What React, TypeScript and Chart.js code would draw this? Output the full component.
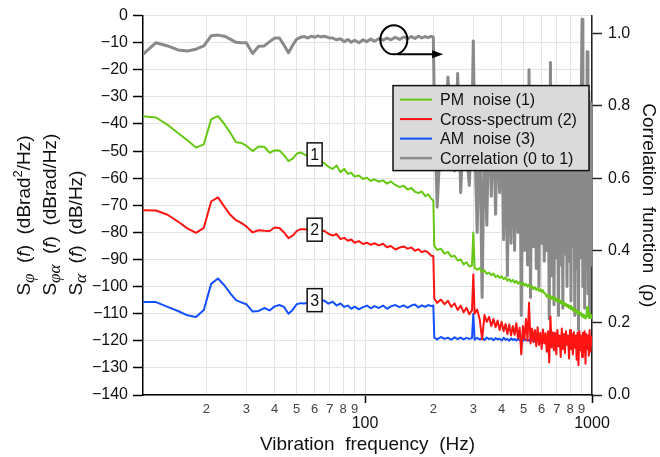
import React, { useEffect, useRef } from 'react';
import { Chart, registerables } from 'chart.js';

Chart.register(...registerables);

const FONT = "'Liberation Sans', Arial, Helvetica, sans-serif";
const SERIF = "'Liberation Serif', 'DejaVu Serif', serif";

// ---------- data (Hz, dB, correlation) ----------
const FREQ_LOW = [
  10.52, 12, 13.5, 15, 16.5, 18, 19.5, 21, 22.5, 24,
  25.5, 27, 28.5, 30, 32, 34, 36, 38, 40, 42,
  44, 46, 48, 50, 52, 54, 56, 58, 60, 62,
  64, 66, 69, 72, 75, 78, 81, 84, 87, 90,
  94, 98, 102, 106, 110, 115, 120, 125, 130, 136,
  142, 148, 154, 160, 166, 172, 178, 184, 190, 196,
  200,
];
const FREQ_HIGH = [
  202, 208, 216, 224, 232, 240, 248, 256, 264, 272, 280, 288, 296, 300,
  304, 312, 320, 328, 336, 344, 352, 360, 368, 376,
  384, 392, 400, 408, 416, 424, 432, 440, 448, 456,
  464, 472, 480, 488, 496, 504, 512, 520, 528, 536,
  544, 552, 560, 568, 576, 584, 592, 600, 608, 616,
  624, 632, 640, 648, 656, 664, 672, 680, 688, 696,
  704, 712, 720, 728, 736, 744, 752, 760, 768, 776,
  784, 792, 800, 808, 816, 824, 832, 840, 848, 856,
  864, 872, 880, 888, 896, 904, 912, 920, 928, 936,
  944, 952, 960, 968, 976, 984, 992, 1000,
];

const PM_LOW = [
  -37.1, -37.6, -40.3, -43.3, -46.0, -48.7, -47.5, -38.3, -37.1, -40.0,
  -43.2, -46.7, -47.0, -48.0, -50.0, -48.3, -48.4, -50.6, -49.7, -49.8,
  -51.5, -53.7, -52.8, -51.0, -50.5, -51.2, -51.8, -52.5, -53.0, -53.5,
  -54.0, -54.4, -55.8, -56.6, -55.3, -57.8, -56.5, -58.4, -58.0, -59.4,
  -59.0, -60.3, -59.8, -61.0, -60.4, -61.3, -60.8, -62.0, -61.2, -62.5,
  -63.3, -62.8, -64.2, -63.6, -65.0, -65.5, -64.9, -66.6, -66.0, -67.6,
  -68.3,
];
const PM_HIGH = [
  -85.0, -86.5, -86.0, -87.8, -87.2, -89.0, -88.6, -90.4, -90.0, -91.8, -91.0, -92.6, -92.2, -80.0,
  -93.0, -93.8, -93.2, -94.6, -94.0, -95.3, -94.8, -95.8, -95.2, -96.4,
  -95.9, -96.8, -96.2, -97.3, -96.6, -97.8, -97.2, -98.2, -97.5, -98.6,
  -97.9, -98.9, -98.3, -99.3, -98.6, -99.6, -99.0, -100.0, -99.3, -100.4,
  -99.8, -100.9, -100.2, -101.2, -100.5, -101.6, -100.9, -102.0, -101.3, -102.4,
  -102.7, -103.8, -103.0, -104.1, -103.4, -104.5, -103.8, -104.9, -104.1, -105.3,
  -104.5, -105.7, -104.9, -106.1, -105.4, -106.6, -105.8, -107.0, -106.3, -107.4,
  -106.7, -107.9, -107.1, -108.3, -107.6, -108.8, -108.0, -109.2, -108.5, -109.7,
  -108.9, -110.1, -109.3, -110.5, -109.8, -111.0, -110.2, -111.4, -110.6, -111.8,
  -111.0, -107.5, -110.8, -111.5, -109.6, -111.6, -110.5, -112.0,
];

const CROSS_LOW = [
  -71.8, -71.9, -73.5, -76.0, -78.5, -80.2, -78.3, -68.6, -67.1, -70.5,
  -73.5, -75.5, -76.5, -77.8, -80.0, -79.2, -79.4, -79.5, -78.2, -78.4,
  -80.0, -82.1, -81.2, -79.5, -78.8, -78.8, -79.0, -79.2, -79.3, -79.4,
  -79.5, -79.4, -80.5, -81.2, -80.6, -82.5, -82.0, -83.1, -82.6, -83.8,
  -83.2, -84.3, -83.8, -84.6, -84.0, -84.8, -84.2, -85.5, -85.0, -86.3,
  -85.6, -85.2, -86.0, -85.6, -86.8, -86.2, -87.3, -86.8, -87.5, -88.6,
  -88.8,
];
const CROSS_HIGH = [
  -104.5, -106.0, -104.8, -106.5, -105.2, -107.5, -106.2, -108.6, -107.0, -109.5, -107.8, -110.2, -108.8, -95.5,
  -110.0, -108.5, -112.0, -119.5, -110.5, -113.0, -111.2, -114.5, -112.0, -115.0,
  -112.5, -116.0, -113.0, -116.5, -113.8, -117.5, -114.0, -118.0, -114.5, -117.8,
  -113.5, -119.0, -115.2, -125.0, -114.5, -119.5, -112.0, -120.0, -106.0, -121.0,
  -115.5, -120.5, -116.0, -122.0, -115.0, -121.5, -117.0, -123.0, -115.8, -121.0,
  -117.2, -124.0, -116.5, -128.0, -111.0, -122.5, -116.8, -123.5, -117.0, -125.0,
  -116.0, -122.0, -118.0, -126.0, -115.5, -123.0, -117.5, -124.5, -116.5, -121.5,
  -118.0, -126.5, -116.0, -123.0, -117.5, -125.0, -116.8, -122.5, -118.0, -127.0,
  -117.0, -129.0, -116.5, -123.5, -118.0, -126.0, -117.0, -124.0, -116.5, -128.5,
  -117.5, -123.0, -118.0, -125.5, -116.0, -124.0, -118.5, -122.0,
];

const AM_LOW = [
  -105.7, -105.7, -107.5, -109.0, -110.6, -111.2, -108.6, -99.0, -97.0, -99.5,
  -102.5, -105.0, -105.8, -106.5, -109.2, -109.0, -107.9, -108.8, -107.3, -106.8,
  -107.5, -110.0, -108.6, -106.5, -106.1, -106.2, -106.0, -105.8, -105.5, -105.3,
  -105.2, -105.1, -106.3, -105.6, -107.0, -106.2, -107.5, -107.0, -108.2, -107.4,
  -108.4, -107.6, -107.0, -108.0, -107.2, -107.9, -107.0, -108.2, -107.3, -106.8,
  -107.6, -106.9, -107.8, -107.0, -106.6, -107.7, -106.9, -107.5, -106.8, -107.2,
  -107.0,
];
const AM_HIGH = [
  -118.8, -119.5, -118.6, -119.3, -118.9, -119.6, -118.7, -119.4, -118.8, -119.5, -118.9, -119.3, -119.0, -110.0,
  -119.6, -118.9, -119.5, -119.0, -119.7, -118.8, -119.4, -119.1, -119.8, -119.0,
  -119.5, -119.2, -119.9, -118.9, -119.6, -119.3, -120.0, -119.1, -119.7, -119.3,
  -119.9, -119.2, -119.8, -119.4, -120.1, -119.3, -119.8, -119.5, -120.0, -119.4,
  -119.9, -119.5, -120.2, -119.4, -119.9, -119.6, -120.1, -119.5, -120.0, -119.7,
  -120.2, -119.6, -120.0, -119.7, -120.3, -119.6, -120.1, -119.8, -120.2, -119.7,
  -120.3, -119.8, -120.1, -119.9, -120.4, -119.8, -120.2, -119.9, -120.5, -119.9,
  -120.3, -120.0, -120.5, -119.9, -120.4, -120.1, -120.6, -120.0, -120.4, -120.1,
  -120.6, -120.0, -120.5, -120.2, -120.7, -120.1, -120.5, -120.2, -120.6, -120.1,
  -120.5, -120.3, -120.7, -120.2, -120.6, -120.3, -120.8, -120.4,
];

const CORR_LOW = [
  0.943, 0.975, 0.966, 0.955, 0.952, 0.957, 0.966, 0.994, 0.996, 0.993,
  0.985, 0.976, 0.975, 0.975, 0.945, 0.965, 0.966, 0.978, 0.988, 0.988,
  0.968, 0.947, 0.968, 0.985, 0.990, 0.992, 0.988, 0.993, 0.990, 0.994,
  0.991, 0.993, 0.989, 0.988, 0.983, 0.986, 0.978, 0.984, 0.976, 0.982,
  0.975, 0.983, 0.978, 0.985, 0.979, 0.986, 0.982, 0.988, 0.983, 0.990,
  0.984, 0.991, 0.986, 0.992, 0.987, 0.993, 0.988, 0.992, 0.989, 0.993,
  0.990,
];
const CORR_HIGH = [
  0.80, 0.52, 0.74, 0.70, 0.88, 0.72, 0.62, 0.89, 0.56, 0.75, 0.68, 0.58, 0.76, 0.98,
  0.72, 0.45, 0.78, 0.27, 0.76, 0.47, 0.80, 0.55, 0.78, 0.50,
  0.76, 0.56, 0.80, 0.43, 0.78, 0.33, 0.80, 0.42, 0.82, 0.40,
  0.79, 0.45, 0.82, 0.22, 0.80, 0.40, 0.83, 0.36, 0.90, 0.27,
  0.78, 0.41, 0.84, 0.35, 0.80, 0.30, 0.83, 0.42, 0.76, 0.37,
  0.82, 0.40, 0.79, 0.21, 0.92, 0.33, 0.81, 0.25, 0.84, 0.38,
  0.78, 0.22, 0.83, 0.36, 0.80, 0.24, 0.85, 0.39, 0.79, 0.30,
  0.82, 0.37, 0.77, 0.26, 0.84, 0.41, 0.80, 0.22, 0.83, 0.35,
  0.78, 0.18, 0.85, 0.38, 0.80, 1.04, 0.30, 0.82, 0.24, 0.79,
  0.36, 0.95, 0.28, 0.84, 0.22, 0.81, 0.36, 0.80,
];

// ---------- axes / labels ----------
const X_TICKS = [20, 30, 40, 50, 60, 70, 80, 90, 100, 200, 300, 400, 500, 600, 700, 800, 900, 1000];
const X_MAJOR = [100, 1000];
const Y_TICKS = [-140, -130, -120, -110, -100, -90, -80, -70, -60, -50, -40, -30, -20, -10, 0];
const Y2_TICKS = [0, 0.2, 0.4, 0.6, 0.8, 1.0];
const SERIES_NAMES = ['PM  noise (1)', 'Cross-spectrum (2)', 'AM  noise (3)', 'Correlation (0 to 1)'];
const SERIES_COLORS = ['#66c814', '#ff1414', '#1450ff', '#8a8a8a'];
const TAG_TEXT = ['1', '2', '3'];
const TAG_FREQ = 60;
const TAG_LEVEL = [-51.2, -79.0, -105.0];
const CIRCLE_FREQ = 134;
const CIRCLE_CORR = 0.983;
const ARROW_CORR = 0.943;
const ARROW_FROM = 138;
const ARROW_TO = 221;

const FREQ = [...FREQ_LOW, ...FREQ_HIGH];
const pts = (vals: number[]) => FREQ.map((x, i) => ({ x, y: vals[i] }));

type Seg = { t: string; k?: 'sub' | 'sup' | 'it' };
const LEFT_TITLE: Seg[][] = [
  [{ t: 'S' }, { t: 'φ', k: 'sub' }, { t: '  (' }, { t: 'f', k: 'it' }, { t: ')  (dBrad' }, { t: '2', k: 'sup' }, { t: '/Hz)' }],
  [{ t: 'S' }, { t: 'φα', k: 'sub' }, { t: '  (' }, { t: 'f', k: 'it' }, { t: ')  (dBrad/Hz)' }],
  [{ t: 'S' }, { t: 'α', k: 'sub' }, { t: '  (' }, { t: 'f', k: 'it' }, { t: ')  (dB/Hz)' }],
];

const overlayPlugin = {
  id: 'overlays',
  afterDraw(chart: any) {
    const { ctx, chartArea: a, scales } = chart;
    const xs = scales.x, ys = scales.y, y2 = scales.y2;
    ctx.save();

    // curve tags
    TAG_TEXT.forEach((t, i) => {
      const cx = xs.getPixelForValue(TAG_FREQ);
      const cy = ys.getPixelForValue(TAG_LEVEL[i]);
      const w = 15, h = 23;
      ctx.fillStyle = '#fff';
      ctx.fillRect(cx - w / 2, cy - h / 2, w, h);
      ctx.lineWidth = 1.5;
      ctx.strokeStyle = '#111';
      ctx.strokeRect(cx - w / 2, cy - h / 2, w, h);
      ctx.fillStyle = '#111';
      ctx.font = `16px ${FONT}`;
      ctx.textAlign = 'center';
      ctx.textBaseline = 'middle';
      ctx.fillText(t, cx, cy + 1);
    });

    // circle + arrow
    const ccx = xs.getPixelForValue(CIRCLE_FREQ);
    const ccy = y2.getPixelForValue(CIRCLE_CORR);
    ctx.beginPath();
    ctx.ellipse(ccx, ccy, 13.5, 14.5, 0, 0, Math.PI * 2);
    ctx.lineWidth = 2;
    ctx.strokeStyle = '#000';
    ctx.stroke();
    const ay = y2.getPixelForValue(ARROW_CORR);
    const ax0 = xs.getPixelForValue(ARROW_FROM);
    const ax1 = xs.getPixelForValue(ARROW_TO);
    ctx.beginPath();
    ctx.moveTo(ax0, ay);
    ctx.lineTo(ax1 - 8, ay);
    ctx.stroke();
    ctx.beginPath();
    ctx.moveTo(ax1, ay);
    ctx.lineTo(ax1 - 11, ay - 4);
    ctx.lineTo(ax1 - 11, ay + 4);
    ctx.closePath();
    ctx.fillStyle = '#000';
    ctx.fill();

    // legend
    const lx = a.right - 199, ly = a.top + 70, lw = 196, lh = 85;
    ctx.fillStyle = '#dadada';
    ctx.fillRect(lx, ly, lw, lh);
    ctx.lineWidth = 1.5;
    ctx.strokeStyle = '#111';
    ctx.strokeRect(lx, ly, lw, lh);
    ctx.font = `16px ${FONT}`;
    ctx.textAlign = 'left';
    ctx.textBaseline = 'middle';
    SERIES_NAMES.forEach((name, i) => {
      const ry = ly + 14 + i * 19.5;
      ctx.beginPath();
      ctx.moveTo(lx + 7, ry);
      ctx.lineTo(lx + 39, ry);
      ctx.lineWidth = i === 3 ? 2.5 : 2;
      ctx.strokeStyle = SERIES_COLORS[i];
      ctx.stroke();
      ctx.fillStyle = '#111';
      ctx.fillText(name, lx + 47, ry + 1);
    });

    // left axis title (three rotated lines with sub/superscripts)
    const baseX = [29.5, 55.5, 81.5];
    const startY = a.top + 280;
    LEFT_TITLE.forEach((line, li) => {
      ctx.save();
      ctx.translate(baseX[li], startY);
      ctx.rotate(-Math.PI / 2);
      ctx.textAlign = 'left';
      ctx.textBaseline = 'alphabetic';
      ctx.fillStyle = '#111';
      let cx = 0;
      line.forEach((s) => {
        let dy = 0;
        if (s.k === 'sub') { ctx.font = `italic 17px ${SERIF}`; dy = 4.5; }
        else if (s.k === 'sup') { ctx.font = `13px ${FONT}`; dy = -8; }
        else if (s.k === 'it') { ctx.font = `italic 19px ${FONT}`; }
        else { ctx.font = `19px ${FONT}`; }
        ctx.fillText(s.t, cx, dy);
        cx += ctx.measureText(s.t).width;
      });
      ctx.restore();
    });

    ctx.restore();
  },
};

export default function App() {
  const ref = useRef<HTMLCanvasElement>(null);
  useEffect(() => {
    const canvas = ref.current;
    if (!canvas) return;
    const isMajor = (v: number) => X_MAJOR.includes(Number(v));
    const chart = new Chart(canvas, {
      type: 'line',
      data: {
        datasets: [
          { label: SERIES_NAMES[0], data: pts([...PM_LOW, ...PM_HIGH]), borderColor: SERIES_COLORS[0], borderWidth: 2, yAxisID: 'y' },
          { label: SERIES_NAMES[1], data: pts([...CROSS_LOW, ...CROSS_HIGH]), borderColor: SERIES_COLORS[1], borderWidth: 2, yAxisID: 'y' },
          { label: SERIES_NAMES[2], data: pts([...AM_LOW, ...AM_HIGH]), borderColor: SERIES_COLORS[2], borderWidth: 2, yAxisID: 'y' },
          { label: SERIES_NAMES[3], data: pts([...CORR_LOW, ...CORR_HIGH]), borderColor: SERIES_COLORS[3], borderWidth: 3, yAxisID: 'y2' },
        ],
      },
      options: {
        responsive: false,
        animation: false,
        devicePixelRatio: 1,
        layout: { padding: { top: 14, left: 0, right: 0, bottom: 0 } },
        plugins: { legend: { display: false }, tooltip: { enabled: false } },
        elements: { point: { radius: 0 }, line: { tension: 0, borderJoinStyle: 'round' } },
        scales: {
          x: {
            type: 'logarithmic',
            min: 10.52,
            max: 1000,
            afterBuildTicks: (s: any) => { s.ticks = X_TICKS.map((v) => ({ value: v, major: isMajor(v) })); },
            afterFit: (s: any) => { s.height = 62; },
            ticks: {
              autoSkip: false,
              maxRotation: 0,
              minRotation: 0,
              padding: 0,
              callback: (value: any) => {
                const v = Number(value);
                if (isMajor(v)) return ['', String(v)];
                return String(Math.round(v / Math.pow(10, Math.floor(Math.log10(v) + 1e-9))));
              },
              font: (c: any) => (c.tick && c.tick.major
                ? { family: FONT, size: 16, lineHeight: 0.85 }
                : { family: FONT, size: 13, lineHeight: 1 }),
              color: (c: any) => (c.tick && c.tick.major ? '#111' : '#444'),
            },
            grid: {
              color: '#e4e4e4',
              lineWidth: 1,
              tickLength: 8,
              tickWidth: 1.5,
              tickColor: (c: any) => (c.tick && c.tick.major ? '#000' : 'rgba(0,0,0,0)'),
            },
            border: { color: '#000', width: 1.5 },
            title: { display: true, text: 'Vibration  frequency  (Hz)', font: { family: FONT, size: 19 }, color: '#111', padding: { top: 0, bottom: 1 } },
          },
          y: {
            position: 'left',
            min: -140,
            max: 0,
            afterBuildTicks: (s: any) => { s.ticks = Y_TICKS.map((v) => ({ value: v })); },
            afterFit: (s: any) => { s.width = 143; },
            ticks: {
              padding: 5,
              font: { family: FONT, size: 16 },
              color: '#111',
              callback: (value: any) => { const v = Number(value); return v < 0 ? '\u2212' + Math.abs(v) : String(v); },
            },
            grid: { color: '#e4e4e4', lineWidth: 1, tickLength: 10, tickColor: '#000', tickWidth: 1.5 },
            border: { color: '#000', width: 1.5 },
          },
          y2: {
            position: 'right',
            min: 0,
            max: 1.05,
            afterBuildTicks: (s: any) => { s.ticks = Y2_TICKS.map((v) => ({ value: v })); },
            afterFit: (s: any) => { s.width = 68; },
            ticks: {
              padding: 6,
              font: { family: FONT, size: 16 },
              color: '#111',
              callback: (value: any) => Number(value).toFixed(1),
            },
            grid: { drawOnChartArea: false, tickLength: 10, tickColor: '#222', tickWidth: 1.5 },
            border: { color: '#222', width: 1.5 },
            title: { display: true, text: 'Correlation  function  (ρ)', font: { family: FONT, size: 19 }, color: '#111', padding: { top: 0, bottom: 0 } },
          },
        },
      } as any,
      plugins: [overlayPlugin],
    });
    return () => chart.destroy();
  }, []);
  return (
    <div style={{ position: 'fixed', left: 0, top: 0, width: 660, height: 457, background: '#fff' }}>
      <canvas ref={ref} width={660} height={457} style={{ display: 'block', width: 660, height: 457 }} />
    </div>
  );
}
